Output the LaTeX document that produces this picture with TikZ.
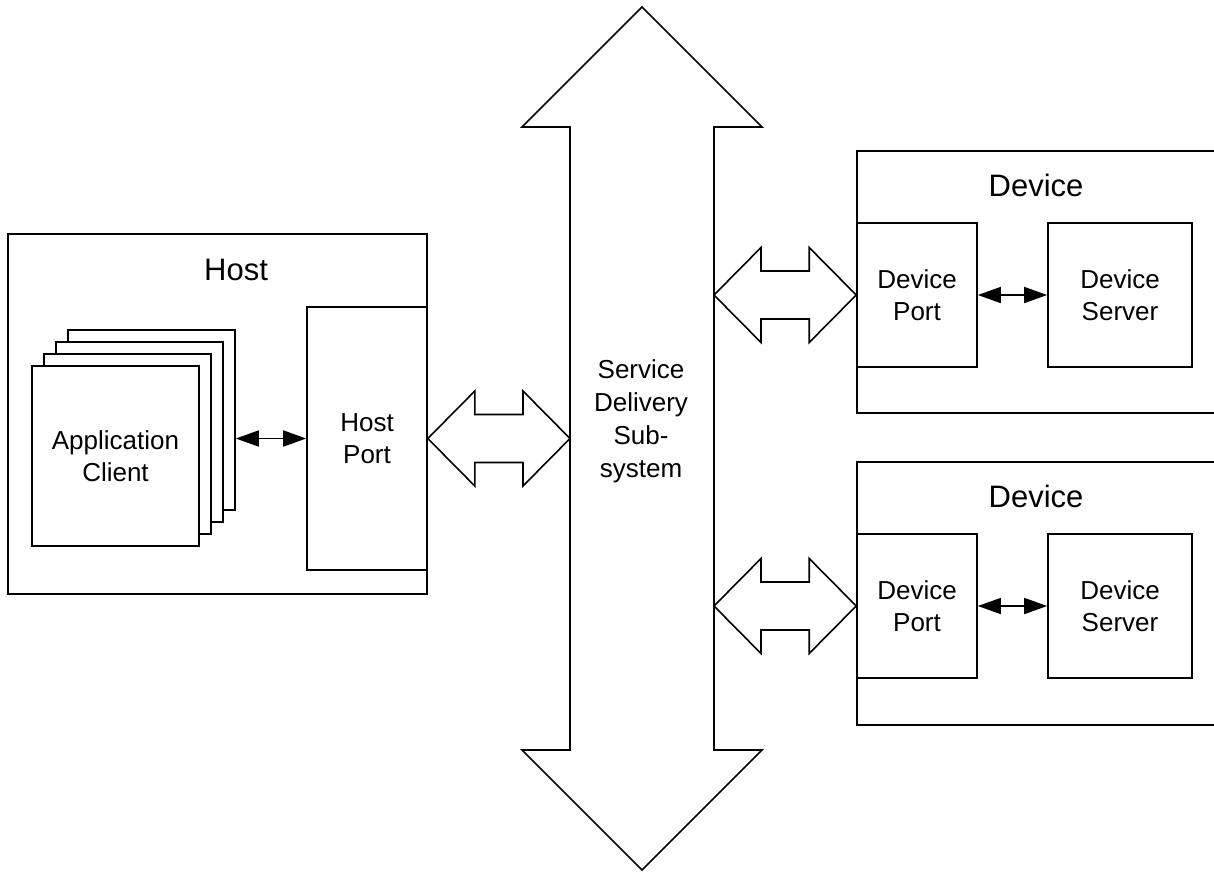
\documentclass[tikz,border=0pt]{standalone}
\usepackage{fontspec}
\setmainfont{Liberation Sans}
\usetikzlibrary{arrows.meta,calc}

\tikzset{
  box/.style={draw, fill=white, line width=1.6pt, align=center, inner sep=0pt,
    font=\fontsize{26}{32}\selectfont},
  title/.style={anchor=base, font=\fontsize{31}{37}\selectfont},
  link/.style={line width=1.6pt,
    {Triangle[length=23pt,width=16pt]}-{Triangle[length=23pt,width=16pt]}},
  fat/.style={draw, fill=white, line width=1.6pt, line join=miter},
}

% wide two-headed arrow between two points at the same height
\newcommand{\fatlink}[2]{%
  \path[fat] let \p1=(#1), \p2=(#2) in
    (\x1,\y1) -- ++(47pt,47.5pt) -- ++(0,-23.5pt) -- (\x2-47pt,\y1+24pt)
    -- ++(0,23.5pt) -- (\x2,\y1) -- ++(-47pt,-47.5pt) -- ++(0,23.5pt)
    -- (\x1+47pt,\y1-24pt) -- ++(0,-23.5pt) -- cycle;}

\begin{document}
\begin{tikzpicture}[x=1pt, y=-1pt]
\useasboundingbox (0,0) rectangle (1214,871);

% host side
\node[box, minimum width=419pt, minimum height=360pt] (host) at (217.5,414) {};
\node[title] (hosttitle) at (236,280) {Host};
\node[box, minimum width=167pt, minimum height=180pt] (app3) at (151.5,420) {};
\node[box, minimum width=167pt, minimum height=180pt] (app2) at (139.5,432) {};
\node[box, minimum width=167pt, minimum height=180pt] (app1) at (127.5,444) {};
\node[box, minimum width=167pt, minimum height=180pt] (app) at (115.5,456) {Application\\Client};
\node[box, minimum width=120pt, minimum height=263pt] (hport) at (367,438.5) {Host\\Port};
\draw[link] (app3.east |- hport.west) -- (hport.west);

% service delivery subsystem
\draw[fat] (642,7) -- (762,127) -- (714,127) -- (714,750) -- (762,750)
  -- (642,870) -- (522,750) -- (570,750) -- (570,127) -- (522,127) -- cycle;
\node[align=center, font=\fontsize{26}{33}\selectfont] (bus) at (641,421)
  {Service\\Delivery\\Sub-\\system};
\coordinate (busL) at (570,0);
\coordinate (busR) at (714,0);
\fatlink{hport.east}{busL |- hport.east}

% first device
\draw[line width=1.6pt] (1220,151) -| (857,413) -- (1220,413);
\node[title] (dev1) at (1036,196) {Device};
\node[box, minimum width=120pt, minimum height=144pt] (dport1) at (917,295) {Device\\Port};
\node[box, minimum width=144pt, minimum height=144pt] (dserv1) at (1120,295) {Device\\Server};
\draw[link] (dport1.east) -- (dserv1.west);
\fatlink{busR |- dport1.west}{dport1.west}

% second device
\draw[line width=1.6pt] (1220,462) -| (857,725) -- (1220,725);
\node[title] (dev2) at (1036,507) {Device};
\node[box, minimum width=120pt, minimum height=144pt] (dport2) at (917,606) {Device\\Port};
\node[box, minimum width=144pt, minimum height=144pt] (dserv2) at (1120,606) {Device\\Server};
\draw[link] (dport2.east) -- (dserv2.west);
\fatlink{busR |- dport2.west}{dport2.west}
\end{tikzpicture}
\end{document}
